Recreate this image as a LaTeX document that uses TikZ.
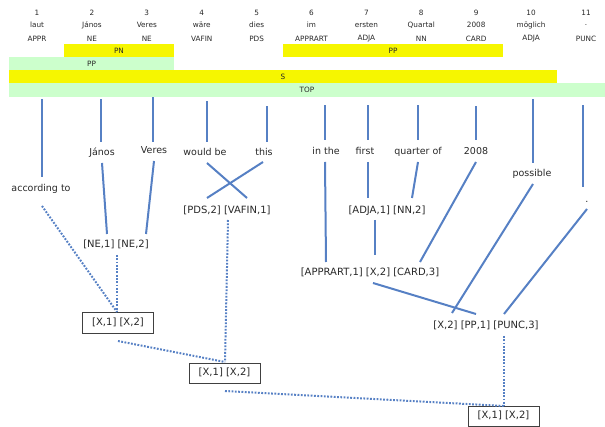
\documentclass[tikz,border=0pt]{standalone}
\usepackage{fontspec}
\setmainfont{DejaVu Sans}
\usetikzlibrary{calc}
\definecolor{barY}{RGB}{246,246,0}
\definecolor{barG}{RGB}{204,255,204}
\definecolor{lnblue}{RGB}{86,128,196}
\definecolor{txt}{RGB}{40,40,40}
\begin{document}
\begin{tikzpicture}[x=1pt,y=-1pt,
  toptxt/.style={font=\fontsize{7.3}{8}\selectfont, text=txt, inner sep=0},
  bar/.style={font=\fontsize{7.3}{8}\selectfont, text=txt, inner sep=0, minimum height=13pt},
  word/.style={font=\fontsize{9.5}{11}\selectfont, text=txt, inner sep=0, text height=6.9pt, text depth=2.2pt},
  slot/.style={word, font=\fontsize{10}{12}\selectfont},
  xbox/.style={slot, draw=black!75, line width=0.8pt, fill=white, minimum width=71pt, minimum height=20.5pt},
  ln/.style={draw=lnblue, line width=2pt},
  dl/.style={draw=lnblue, line width=2pt, dash pattern=on 1.8pt off 1.5pt},
]
\useasboundingbox (0,0) rectangle (605,427);
% top rows
\foreach \i/\w/\t in {1/laut/APPR, 2/János/NE, 3/Veres/NE, 4/wäre/VAFIN, 5/dies/PDS,
  6/im/APPRART, 7/ersten/ADJA, 8/Quartal/NN, 9/2008/CARD, 10/möglich/ADJA, 11/./PUNC}{
  \node[toptxt] (num\i) at ({37+54.9*(\i-1)},13) {\i};
  \node[toptxt] (gw\i) at ({37+54.9*(\i-1)},25) {\w};
  \node[toptxt] (tag\i) at ({37+54.9*(\i-1)},39) {\t};
}
% bars
\node[bar, fill=barY, minimum width=110pt] (pn) at (119,50.5) {PN};
\node[bar, fill=barY, minimum width=220pt] (ppr) at (393,50.5) {PP};
\node[bar, fill=barG, minimum width=165pt] (ppl) at (91.5,63.5) {PP};
\node[bar, fill=barY, minimum width=548pt] (sbar) at (283,76.5) {S};
\node[bar, fill=barG, minimum width=596pt, minimum height=14pt] (topbar) at (307,90) {TOP};
% English words
\node[word] (w1) at (41,189) {according to};
\node[word] (w2) at (102,153) {János};
\node[word] (w3) at (154,151) {Veres};
\node[word] (w4) at (205,153) {would be};
\node[word] (w5) at (264,153) {this};
\node[word] (w6) at (326,152) {in the};
\node[word] (w7) at (365,152) {first};
\node[word] (w8) at (418,152) {quarter of};
\node[word] (w9) at (476,152) {2008};
\node[word] (w10) at (532,174) {possible};
\node[word] (w11) at (587,200) {.};
% slot labels
\node[slot] (ne) at (116,245) {[NE,1] [NE,2]};
\node[slot] (pv) at (227,211) {[PDS,2] [VAFIN,1]};
\node[slot] (an) at (387,211) {[ADJA,1] [NN,2]};
\node[slot] (ap) at (370,273) {[APPRART,1] [X,2] [CARD,3]};
\node[slot] (xp) at (486,326) {[X,2] [PP,1] [PUNC,3]};
\node[xbox] (b1) at (118,323) {[X,1] [X,2]};
\node[xbox] (b2) at (224.5,373.5) {[X,1] [X,2]};
\node[xbox] (b3) at (503.5,416.5) {[X,1] [X,2]};
% lines from TOP bar
\draw[ln] ($(w1|-topbar.south)+(1,2)$) -- ($(w1)+(1,-12)$);
\draw[ln] ($(w2|-topbar.south)+(-1,2)$) -- ($(w2)+(-1,-11)$);
\draw[ln] ($(w3|-topbar.south)+(-1,0)$) -- ($(w3)+(-1,-9)$);
\draw[ln] ($(w4|-topbar.south)+(2,4)$) -- ($(w4)+(2,-11)$);
\draw[ln] ($(w5|-topbar.south)+(3,9)$) -- ($(w5)+(3,-11)$);
\draw[ln] ($(w6|-topbar.south)+(-1,8)$) -- ($(w6)+(-1,-12)$);
\draw[ln] ($(w7|-topbar.south)+(3,8)$) -- ($(w7)+(3,-12)$);
\draw[ln] ($(w8|-topbar.south)+(0,8)$) -- ($(w8)+(0,-12)$);
\draw[ln] ($(w9|-topbar.south)+(0,9)$) -- ($(w9)+(0,-12)$);
\draw[ln] ($(w10|-topbar.south)+(1,2)$) -- ($(w10)+(1,-11)$);
\draw[ln] ($(w11|-topbar.south)+(-4,8)$) -- ($(w11)+(-4,-13)$);
% solid connectors
\draw[ln] ($(w4)+(2,10)$) -- ($(pv)+(20,-13)$);
\draw[ln] ($(w5)+(-1,9)$) -- ($(pv)+(-20,-13)$);
\draw[ln] ($(w2)+(0,10)$) -- ($(ne)+(-9,-11)$);
\draw[ln] ($(w3)+(0,10)$) -- ($(ne)+(30,-11)$);
\draw[ln] ($(w6)+(-1,10)$) -- ($(ap)+(-44,-11)$);
\draw[ln] ($(w7)+(3,10)$) -- ($(an)+(-19,-13)$);
\draw[ln] ($(w8)+(0,10)$) -- ($(an)+(25,-13)$);
\draw[ln] ($(an)+(-12,9)$) -- ($(ap)+(5,-18)$);
\draw[ln] ($(w9)+(0,10)$) -- ($(ap)+(50,-11)$);
\draw[ln] ($(w10)+(1,10)$) -- ($(xp)+(-34,-13)$);
\draw[ln] ($(w11)+(0,9)$) -- ($(xp)+(18,-12)$);
\draw[ln] ($(ap)+(3,10)$) -- ($(xp)+(-10,-12)$);
% dotted connectors
\draw[dl] ($(w1)+(1,17)$) -- ($(b1)+(-1,-11)$);
\draw[dl] ($(ne)+(1,10)$) -- ($(b1)+(-1,-11)$);
\draw[dl] ($(pv)+(1,9)$) -- ($(b2)+(0.5,-11.5)$);
\draw[dl] ($(b1)+(0,18)$) -- ($(b2)+(0.5,-11.5)$);
\draw[dl] ($(xp)+(18,10)$) -- ($(b3)+(0.5,-10.5)$);
\draw[dl] ($(b2)+(0.5,17.5)$) -- ($(b3)+(0.5,-10.5)$);
\end{tikzpicture}
\end{document}
